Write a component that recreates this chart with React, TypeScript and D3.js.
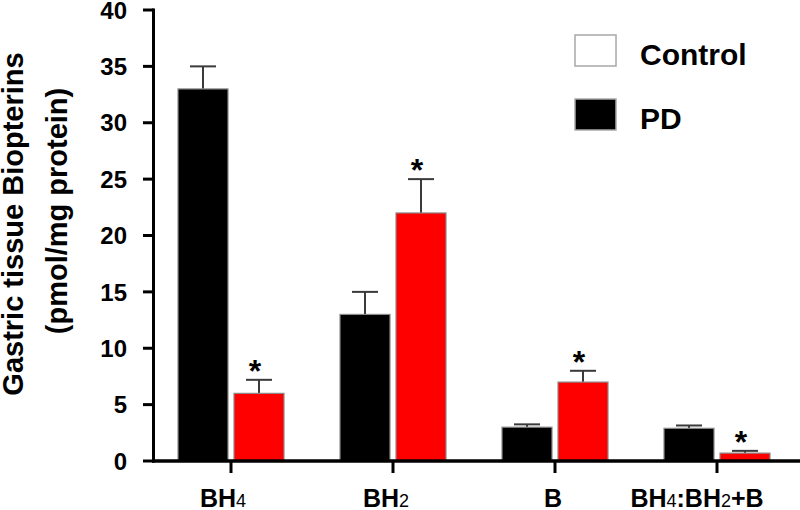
import React from "react";
import * as d3 from "d3";

const categories = ["BH4", "BH2", "B", "BH4:BH2+B"];
const seriesNames = ["Control", "PD"];
const blackValues = [33, 13, 3, 2.9];
const blackErrors = [2, 2, 0.25, 0.25];
const redValues = [6, 22, 7, 0.7];
const redErrors = [1.2, 3, 1.0, 0.2];
const significant = [true, true, true, true];
const yTicks = [0, 5, 10, 15, 20, 25, 30, 35, 40];
const legendLabels = ["Control", "PD"];
const titleLines = ["Gastric tissue Biopterins", "(pmol/mg protein)"];

const W = 800;
const H = 510;
const FONT = "'Liberation Sans', Arial, Helvetica, sans-serif";
const LABEL_SHIFT = [-8, -7, -2, -20];

function splitSub(label: string) {
  const parts = label.match(/\d+|\D+/g) || [];
  return parts.map((p) => ({ text: p, sub: /^\d+$/.test(p) }));
}

export default function App() {
  const y = d3.scaleLinear().domain([0, 40]).range([461, 10]);
  const x = d3.scaleBand().domain(categories).range([150, 798]).padding(0);
  const inner = d3.scaleBand().domain(seriesNames).range([-53, 53]).paddingInner(0.107);
  const bw = inner.bandwidth();
  const series = [
    { name: seriesNames[0], values: blackValues, errors: blackErrors, fill: "#000000" },
    { name: seriesNames[1], values: redValues, errors: redErrors, fill: "#ff0000" },
  ];
  const cx = (c: string) => (x(c) as number) + x.bandwidth() / 2;
  const axisX = 153.5;
  const axisY = y(0);

  return (
    <svg width={W} height={H} style={{ display: "block", position: "absolute", left: 0, top: 0 }} fontFamily={FONT}>
      <rect x={0} y={0} width={W} height={H} fill="#ffffff" />
      {/* bars */}
      {series.map((s) =>
        categories.map((c, i) => {
          const bx = cx(c) + (inner(s.name) as number);
          const top = y(s.values[i]);
          const et = y(s.values[i] + s.errors[i]);
          const mid = bx + bw / 2;
          return (
            <g key={s.name + c}>
              <line x1={mid} x2={mid} y1={top} y2={et} stroke="#3a3a3a" strokeWidth={2} />
              <line x1={mid - 13} x2={mid + 13} y1={et} y2={et} stroke="#3a3a3a" strokeWidth={2} />
              <rect x={bx} y={top} width={bw} height={axisY - top} fill={s.fill} stroke="#8a8a8a" strokeWidth={1.2} />
              {s.name === "PD" && significant[i] ? (
                <text x={mid - 4} y={et + 2} textAnchor="middle" fontSize={32} fontWeight="bold" fill="#000">
                  *
                </text>
              ) : null}
            </g>
          );
        })
      )}
      {/* y axis */}
      <line x1={axisX} x2={axisX} y1={y(40) - 1.5} y2={axisY + 1.5} stroke="#000" strokeWidth={3} />
      {yTicks.map((t) => (
        <g key={t}>
          <line x1={143} x2={axisX} y1={y(t)} y2={y(t)} stroke="#000" strokeWidth={3} />
          <text x={127} y={y(t)} dy="0.36em" textAnchor="end" fontSize={24} fontWeight="bold" fill="#000">
            {t}
          </text>
        </g>
      ))}
      {/* x axis */}
      <line x1={axisX - 1.5} x2={W} y1={axisY} y2={axisY} stroke="#000" strokeWidth={3.5} />
      {categories.map((c, i) => (
        <g key={c}>
          <line x1={cx(c)} x2={cx(c)} y1={axisY} y2={axisY + 12} stroke="#000" strokeWidth={3} />
          <text x={cx(c) + LABEL_SHIFT[i]} y={507} textAnchor="middle" fontWeight="bold" fontSize={25} fill="#000">
            {splitSub(c).map((p, k) => (
              <tspan key={k} fontSize={p.sub ? 18 : 25} fontWeight={p.sub ? "normal" : "bold"}>
                {p.text}
              </tspan>
            ))}
          </text>
        </g>
      ))}
      {/* y title */}
      <text transform={`translate(23,224) rotate(-90)`} textAnchor="middle" fontSize={29} fontWeight="bold" fill="#000">
        {titleLines[0]}
      </text>
      <text transform={`translate(67,211) rotate(-90)`} textAnchor="middle" fontSize={29} fontWeight="bold" fill="#000">
        {titleLines[1]}
      </text>
      {/* legend */}
      {legendLabels.map((l, i) => (
        <g key={l} transform={`translate(575,${35 + i * 64})`}>
          <rect x={0} y={0} width={41} height={31} fill={i === 0 ? "#ffffff" : "#000000"} stroke="#a8a8a8" strokeWidth={1.5} />
          <text x={65} y={30} fontSize={30} fontWeight="bold" fill="#000">
            {l}
          </text>
        </g>
      ))}
    </svg>
  );
}
